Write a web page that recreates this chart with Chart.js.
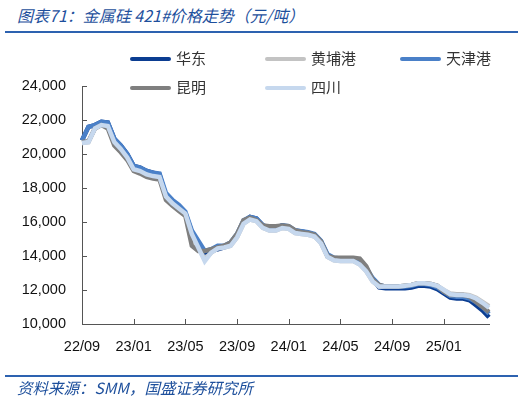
<!DOCTYPE html>
<html>
<head>
<meta charset="utf-8">
<script src="https://cdn.jsdelivr.net/npm/chart.js@4.4.1/dist/chart.umd.min.js"></script>
<style>
  body { margin: 0; background: #fff; }
  #wrap { position: relative; width: 525px; height: 401px; overflow: hidden; }
  #myChart { position: absolute; left: 0; top: 0; }
  .title, .source {
    position: absolute; left: 17px; color: #1d4f9c; font-style: italic;
    font-family: "Noto Sans CJK SC", "Liberation Sans", sans-serif; font-size: 16px; white-space: nowrap;
  }
  .title { top: 3px; }
  .source { top: 376px; font-size: 15.5px; }
  .rule { position: absolute; left: 5px; width: 513px; height: 2px; background: #2d62b0; }
  .item { position: absolute; font-family: "Noto Sans CJK SC", sans-serif; font-size: 15px; color: #333; line-height: 20px; white-space: nowrap; }
  .item i { display: inline-block; width: 41px; height: 4px; border-radius: 2px; vertical-align: middle; margin-right: 5px; position: relative; top: -1px; }
</style>
</head>
<body>
<div id="wrap">
  <div class="title">图表71：金属硅 421#价格走势（元/吨）</div>
  <div class="rule" style="top:31px"></div>
  <canvas id="myChart" width="525" height="401"></canvas>
  <div id="legend"></div>
  <div class="rule" style="top:375px"></div>
  <div class="source">资料来源：SMM，国盛证券研究所</div>
</div>
<script>
// half-month points from 2022/09 to 2025/04, tick label every 4 months
const tickLabels = ['22/09', '23/01', '23/05', '23/09', '24/01', '24/05', '24/09', '25/01'];
const tickEvery = 8;

const huadong = [20800, 21600, 21700, 21900, 21850, 20900, 20500, 20000, 19300, 19200, 19000, 18900, 18800, 17500, 17000, 16800,
  16500, 15400, 14800, 14200, 14300, 14400, 14500, 14700, 15200, 16000, 16300, 16200, 15800, 15650, 15650, 15800,
  15700, 15500, 15450, 15350, 15250, 14850, 14050, 13850, 13800, 13800, 13800, 13650, 13250, 12600, 12150, 12100,
  12100, 12100, 12100, 12150, 12250, 12250, 12200, 12050, 11800, 11550, 11500, 11500, 11400, 11100, 10800, 10400];
const huangpu = [20650, 20700, 21500, 21700, 21650, 20700, 20300, 19800, 19100, 19000, 18800, 18700, 18650, 17500, 17100, 16800,
  16500, 15300, 14500, 13800, 14200, 14450, 14500, 14600, 15100, 15900, 16150, 16050, 15650, 15500, 15500, 15650,
  15600, 15350, 15300, 15250, 15150, 14750, 13950, 13750, 13700, 13700, 13700, 13500, 13100, 12500, 12200, 12200,
  12200, 12200, 12250, 12300, 12400, 12400, 12350, 12250, 12000, 11800, 11750, 11750, 11700, 11550, 11300, 11050];
const tianjin = [20800, 21600, 21700, 21900, 21850, 20900, 20500, 20000, 19300, 19200, 19000, 18900, 18850, 17700, 17300, 17000,
  16600, 15500, 14900, 14300, 14400, 14600, 14600, 14800, 15300, 16100, 16300, 16200, 15800, 15650, 15650, 15800,
  15750, 15500, 15450, 15400, 15300, 14900, 14100, 13900, 13850, 13850, 13850, 13700, 13300, 12700, 12300, 12200,
  12200, 12200, 12200, 12250, 12350, 12350, 12300, 12150, 11900, 11650, 11600, 11600, 11500, 11300, 11000, 10600];
const kunming = [20700, 20750, 21500, 21700, 21500, 20500, 20100, 19650, 19000, 18850, 18650, 18550, 18500, 17300, 16950, 16650,
  16350, 14600, 14300, 14300, 14400, 14500, 14600, 14800, 15300, 16100, 16250, 16100, 15800, 15750, 15750, 15800,
  15750, 15500, 15400, 15350, 15250, 14850, 14000, 13900, 13900, 13900, 13900, 13850, 13400, 12600, 12300, 12200,
  12200, 12200, 12250, 12300, 12400, 12400, 12350, 12250, 11900, 11700, 11700, 11700, 11600, 11300, 11000, 10700];
const sichuan = [20650, 20700, 21500, 21700, 21650, 20700, 20300, 19800, 19100, 19000, 18800, 18700, 18650, 17500, 17100, 16800,
  16500, 15300, 14500, 13700, 14200, 14450, 14500, 14600, 15100, 15900, 16150, 16050, 15650, 15500, 15500, 15650,
  15600, 15350, 15300, 15250, 15150, 14750, 13950, 13750, 13700, 13700, 13700, 13500, 13100, 12500, 12200, 12200,
  12200, 12200, 12250, 12300, 12400, 12400, 12350, 12250, 12000, 11750, 11700, 11700, 11650, 11500, 11250, 10950];

const seriesNames = ['华东', '黄埔港', '天津港', '昆明', '四川'];
const seriesColors = ['#0b3d91', '#c3c3c3', '#4a80c8', '#7f7f7f', '#c6d8ee'];
const seriesData = [huadong, huangpu, tianjin, kunming, sichuan];
const drawOrder = [5, 4, 3, 2, 1]; // lower = drawn on top

const labels = huadong.map((v, i) => {
  const month = 8 + Math.floor(i / 2);
  const yy = 22 + Math.floor(month / 12);
  const mm = (month % 12) + 1;
  return yy + '/' + String(mm).padStart(2, '0') + (i % 2 ? '下' : '上');
});

const axisColor = '#555';
const numFont = { family: '"Liberation Sans", Arial, sans-serif', size: 14.5 };

const innerTicks = {
  id: 'innerTicks',
  afterDraw(chart) {
    const { ctx, chartArea, scales: { x, y } } = chart;
    ctx.save();
    ctx.strokeStyle = axisColor;
    ctx.lineWidth = 1;
    ctx.beginPath();
    y.ticks.forEach((t, i) => {
      const py = Math.round(y.getPixelForTick(i)) + 0.5;
      ctx.moveTo(chartArea.left, py);
      ctx.lineTo(chartArea.left + 5, py);
    });
    tickLabels.forEach((l, i) => {
      const px = Math.round(x.getPixelForValue(i * tickEvery)) + 0.5;
      ctx.moveTo(px, chartArea.bottom);
      ctx.lineTo(px, chartArea.bottom - 5);
    });
    ctx.stroke();
    ctx.restore();
  }
};

new Chart(document.getElementById('myChart').getContext('2d'), {
  type: 'line',
  data: {
    labels: labels,
    datasets: seriesNames.map((name, k) => ({
      label: name,
      data: seriesData[k],
      borderColor: seriesColors[k],
      backgroundColor: seriesColors[k],
      borderWidth: 4.5,
      pointRadius: 0,
      tension: 0,
      order: drawOrder[k]
    }))
  },
  options: {
    responsive: false,
    animation: false,
    devicePixelRatio: 1,
    layout: { padding: { left: 0, right: 36, top: 86, bottom: 37 } },
    plugins: { legend: { display: false }, tooltip: { enabled: false } },
    scales: {
      x: {
        grid: { drawOnChartArea: false, drawTicks: false },
        border: { display: true, color: axisColor, width: 1 },
        afterFit: s => { s.height = 40; },
        ticks: {
          autoSkip: false, maxRotation: 0, padding: 14, color: '#111', font: numFont,
          callback: (v, i) => (i % tickEvery === 0 ? tickLabels[i / tickEvery] : '')
        }
      },
      y: {
        min: 10000, max: 24000,
        grid: { drawOnChartArea: false, drawTicks: false },
        border: { display: true, color: axisColor, width: 1 },
        afterFit: s => { s.width = 82; },
        ticks: {
          stepSize: 2000, padding: 16, color: '#111', font: numFont,
          callback: v => v.toLocaleString('en-US')
        }
      }
    }
  },
  plugins: [innerTicks]
});

// legend laid out in the reference's two rows of three columns
const legendPos = [[130, 48], [265, 48], [400, 48], [130, 77], [265, 77]];
const legend = document.getElementById('legend');
seriesNames.forEach((name, k) => {
  const d = document.createElement('div');
  d.className = 'item';
  d.style.left = legendPos[k][0] + 'px';
  d.style.top = legendPos[k][1] + 'px';
  d.innerHTML = '<i style="background:' + seriesColors[k] + '"></i>' + name;
  legend.appendChild(d);
});
</script>
</body>
</html>
